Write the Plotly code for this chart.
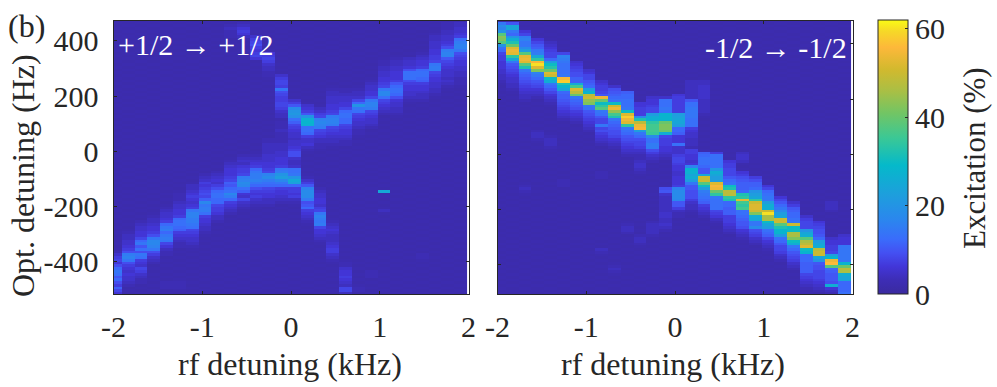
import plotly.graph_objects as go

RF_DETUNING = [-1.978, -1.834, -1.690, -1.545, -1.401, -1.257, -1.113, -0.969, -0.825, -0.680,
               -0.536, -0.392, -0.248, -0.104, 0.040, 0.184, 0.329, 0.473, 0.617, 0.761,
               0.905, 1.049, 1.194, 1.338, 1.482, 1.626, 1.770, 1.915]
OPT_LEFT = list(range(475, -525, -10))
OPT_RIGHT = list(range(485, -515, -10))
BACKGROUND = [1.8, 2.2]

# Each column: (Hz of first cell, excitation values going down in 10 Hz steps)
LEFT_COLUMNS = [
 [(-360, [3,5,7,8,6,9,12,14,13,10,12,9,7,11,8,6])],
 [(-290, [3,4,4,5,5,6,7,9,15,16,14,9,7,6,5,6,5,5,4,3])],
 [(-250, [3,4,5,5,6,6,8,12,14,10,13,9,14,13,7,6,5,8,7,5,4,3,3])],
 [(-230, [3,4,4,5,6,6,7,9,14,17,17,16,14,9,7,5,4,3])],
 [(-200, [3,4,5,5,6,7,12,14,15,12,14,15,14,8,6,4,3,3]), (-470, [3,3,3])],
 [(-150, [3,3,3,4,5,5,6,6,7,12,13,13,12,11,7,6,5,4,3,3]), (-470, [3,3,3])],
 [(-120, [4,4,5,6,7,6,5,6,7,14,16,16,15,15,14,13,8,7,6,5,5,4,3])],
 [(-80, [3,4,5,7,6,7,8,9,8,11,17,14,15,15,13,7,6,6,5,4,4,3])],
 [(-70, [3,4,5,6,5,7,9,12,13,13,12,12,8,7,7,6,4,4,3])],
 [(460, [3,4,3,3,3]), (-30, [3,4,5,6,6,6,7,8,11,10,12,13,17,15,12,7,6,5,4,3])],
 [(470, [3,4,6,7,6,4]), (-10, [3,4,5,4,6,7,7,8,15,16,18,17,13,11,6,5,8,5,4,3])],
 [(420, [5,7,8,9,7,6,7,8,6]), (-10, [3,4,5,6,7,12,14,15,15,16,14,12,9,7,6,7,5,4,3])],
 [(360, [6,7,8,7,5,4,4,3,3]), (50, [3,3,4,4,4,4,5,5,5,6,6,7,8,16,18,15,13,12,8,7,6,6,4,4,3])],
 [(280, [5,7,8,8,7,14,9,8,7,7,8,8,7,5,4,4]), (110, [3,3,3,4,3,3,3,3,4,4,4,5,5,6,6,6,7,14,15,20,22,17,14,12,7,6,6,5,4,3])],
 [(190, [5,7,10,18,20,21,19,13,11,8,7,6,5,5,4,5,5,6,7,9,9,5,4,4,5,13,13,14,20,25,23,12,7,7,6,7,4,3])],
 [(170, [5,6,7,10,20,27,28,27,13,13,12,7,5,5,6,4,3]), (-90, [3,5,7,10,16,18,18,18,15,9,10,12,7,6,5,4,3])],
 [(160, [4,5,7,8,16,17,16,15,8,7,6,4,4,3,3]), (-130, [3,4,5,5,6,6,5,7,8,14,16,15,14,15,8,6,6,5,4,3])],
 [(230, [3,4,4,5,5,5,6,6,7,8,15,16,16,15,8,7,6,5,4,4,3]), (-250, [3,4,5,6,5,4,4,4,5,6,7,7,5,4,3])],
 [(230, [3,3,4,5,5,6,6,8,12,13,13,12,12,8,7,6,6,5,4,3,3]), (-400, [3,3,5,6,6,7,6,5,4,8,8,4,3])],
 [(230, [3,4,4,5,8,12,20,14,13,8,7,6,5,5,4,3,3]), (-490, [3,3])],
 [(260, [3,4,5,5,6,6,8,14,16,16,15,8,7,6,5,5,4,3]), (-430, [3,3,3])],
 [(330, [3,3,4,4,5,5,6,6,7,8,14,17,17,13,8,7,6,5,4,3]), (-140, [25]), (-210, [4])],
 [(340, [3,4,4,5,5,6,6,6,7,10,12,13,13,12,9,6,5,5,4,4,3])],
 [(340, [4,5,5,6,9,13,13,13,9,7,6,6,5,5,4,3])],
 [(360, [3,4,5,6,6,7,12,13,13,12,11,7,6,6,5,4,4,3]), (-370, [3,3])],
 [(430, [3,4,4,5,5,5,6,6,7,7,8,14,15,15,8,7,6,6,5,5,4,4,3])],
 [(470, [3,3,3,4,4,5,5,6,7,9,15,16,16,10,8,7,6,5,5,5,4,5,4,3])],
 [(470, [4,4,5,5,6,7,13,15,16,16,14,9,8,7,6,6,5,5,4,4,3,3,3])],
]

RIGHT_COLUMNS = [
 [(480, [14,18,16,20,38,43,42,38,20,13,12,8,7,7,6,6,6,5,5,4,4,3])],
 [(480, [10,24,24,14,12,20,26,32,40,52,54,53,34,24,14,10,9,8,7,6,5,5,4,4,3])],
 [(450, [6,8,15,16,14,14,18,22,38,53,54,52,38,32,14,12,11,10,9,8,7,6,5,4,4,3]), (-110, [3,4,3])],
 [(420, [6,8,10,11,14,15,24,34,55,60,52,42,16,14,12,10,9,8,6,5,4,3]), (90, [3,4,4,3])],
 [(410, [4,5,6,7,8,8,12,22,30,33,40,52,50,30,26,14,12,10,8,6,5,4,3]), (70, [3,4,4,4,3])],
 [(370, [8,16,15,14,13,13,13,13,14,55,58,32,28,24,12,11,11,10,9,8,7,6,5,4,3]), (-90, [3,3,3])],
 [(340, [5,6,7,8,9,9,11,11,25,36,52,48,40,14,12,11,10,9,7,6,5,4,3])],
 [(310, [5,6,8,8,10,11,12,22,28,48,50,44,42,14,13,10,9,8,7,6,5,4,3])],
 [(270, [5,6,7,7,8,10,54,40,30,34,38,14,13,10,8,8,14,8,9,7,6,5,4,3]), (-340, [4,3]), (-60, [3,3,3])],
 [(250, [5,9,10,11,12,13,30,50,54,44,36,32,14,12,11,10,9,9,8,6,5,4,3]), (-400, [3,4,3])],
 [(230, [11,12,12,13,13,13,14,30,52,58,54,52,34,14,13,12,10,9,8,7,6,5,4,3]), (-250, [3,4,4,3])],
 [(190, [6,6,7,7,7,18,32,48,54,55,22,14,12,9,8,8,7,5,4,3]), (-10, [3,4,5,5,4,3]), (-290, [3,4,4,3])],
 [(210, [5,6,6,7,8,8,22,26,27,34,36,36,36,35,18,13,13,15,15,9,7,5,4,3]), (-240, [3,4,4,4,4,3])],
 [(210, [5,13,13,13,14,13,28,28,28,40,42,42,40,26,8,7,7,7,6,6,5,4,3]), (-120, [9,10,5,4,4,4,4,4,4,5,5,4,4,5,4,3])],
 [(220, [6,7,7,7,7,7,7,22,23,24,24,22,12,12,11,6,6,6,13,5,5,5,7,8,8,7,6,6,5,5,6,6,6,7,16,18,18,18,17,10,10,7,4,3,3])],
 [(270, [4,4,4,4,4,4,4,10,13,13,14,14,14,14,13,13,13,7,6,5,5,4,4,4,3,7,7,6,6,5,6,16,28,27,24,26,22,14,10,10,9,9,9,7,5,4,4,3])],
 [(270, [4,4,5,5,5,5,5,4,4,4,4,4,3]), (10, [11,12,13,13,13,12,10,10,24,50,50,38,30,22,15,14,13,12,11,7,6,5,4,3])],
 [(10, [7,13,13,13,13,13,20,26,24,22,22,52,55,54,40,34,14,13,13,13,13,8,7,6,4,3])],
 [(-20, [6,7,7,8,8,8,10,12,13,30,32,48,48,34,32,12,12,11,11,11,7,7,7,6,5,4,3])],
 [(10, [4,5,5,4]), (-60, [6,7,9,10,11,11,11,12,32,34,53,36,34,36,13,13,12,11,10,10,9,6,5,4,3])],
 [(-80, [7,9,11,11,12,20,22,24,34,50,52,52,50,42,26,25,14,14,18,9,8,7,5,4,3])],
 [(-110, [6,8,12,13,14,14,22,26,26,50,60,46,46,30,24,22,13,12,11,8,6,5,4,3])],
 [(-150, [6,8,10,12,14,18,22,24,50,50,38,32,28,28,22,13,12,10,8,8,7,5,4,3])],
 [(-170, [5,7,10,11,12,12,13,14,50,30,30,46,46,42,30,26,14,12,10,9,8,7,5,4,3])],
 [(-220, [5,7,8,8,8,20,24,26,38,46,48,52,30,28,12,12,12,11,11,11,11,8,7,6,5,4,3])],
 [(-240, [6,7,8,9,9,10,12,22,24,26,48,50,50,24,20,10,9,9,8,8,8,7,6,5,4,3])],
 [(-170, [4,4,4,3]), (-300, [5,6,6,7,7,8,22,28,54,56,38,12,11,10,10,10,9,26,6,4,3])],
 [(-290, [5,6,6,6,14,14,14,14,14,14,28,40,48,46,26,24,24,12,12,12,12,13])],
]

TICKS_RF = [-2, -1, 0, 1, 2]
TICKS_RF_TEXT = ["-2", "-1", "0", "1", "2"]
TICKS_OPT = [-400, -200, 0, 200, 400]
TICKS_OPT_TEXT = ["-400", "-200", "0", "200", "400"]
TICKS_EXC = [0, 20, 40, 60]

PARULA = [[0.0, "#3a2a9f"], [0.05, "#3d2db5"], [0.1, "#4236d8"], [0.15, "#4450f2"], [0.2, "#3a6cfb"], [0.27, "#2b86ee"],
          [0.36, "#1e9edd"], [0.47, "#05b9ca"], [0.57, "#3bc895"], [0.66, "#72c564"], [0.74, "#a9bf45"],
          [0.82, "#d2b92e"], [0.9, "#fdb83a"], [0.96, "#f6d927"], [1.0, "#f9fb15"]]
FONT = "Liberation Serif"
INK = "#262626"


def build(columns, rows, top):
    grid = [[BACKGROUND[(r + c) % 2] for c in range(len(columns))] for r in range(len(rows))]
    for c, segments in enumerate(columns):
        for hz, values in segments:
            r0 = (top - hz) // 10
            for i, v in enumerate(values):
                if 0 <= r0 + i < len(rows):
                    grid[r0 + i][c] = max(grid[r0 + i][c], v)
    return grid


fig = go.Figure()
fig.add_trace(go.Heatmap(x=RF_DETUNING, y=OPT_LEFT, z=build(LEFT_COLUMNS, OPT_LEFT, 480),
                         coloraxis="coloraxis", xaxis="x", yaxis="y"))
fig.add_trace(go.Heatmap(x=RF_DETUNING, y=OPT_RIGHT, z=build(RIGHT_COLUMNS, OPT_RIGHT, 490),
                         coloraxis="coloraxis", xaxis="x2", yaxis="y2"))

W, H = 997, 387
axis_common = dict(ticks="inside", ticklen=3, tickcolor=INK, tickwidth=1, mirror="ticks", showline=True,
                   linecolor=INK, linewidth=1, showgrid=False, zeroline=False, automargin=False,
                   tickfont=dict(family=FONT, size=30, color=INK))
fig.update_layout(
    width=W, height=H, autosize=False, paper_bgcolor="white", plot_bgcolor="white",
    margin=dict(l=0, r=0, t=0, b=0), showlegend=False,
    xaxis=dict(domain=[113.5 / W, 468.5 / W], range=[-2, 2], tickvals=TICKS_RF, ticktext=TICKS_RF_TEXT,
               anchor="y", ticklabelstandoff=6, **axis_common),
    yaxis=dict(domain=[1 - 294 / H, 1 - 20.5 / H], range=[-517, 474], tickvals=TICKS_OPT, ticktext=TICKS_OPT_TEXT,
               anchor="x", ticklabelstandoff=8, **axis_common),
    xaxis2=dict(domain=[497.5 / W, 852.5 / W], range=[-2, 2], tickvals=TICKS_RF, ticktext=TICKS_RF_TEXT,
                anchor="y2", ticklabelstandoff=6, **axis_common),
    yaxis2=dict(domain=[1 - 294 / H, 1 - 20.5 / H], range=[-506, 485], tickvals=TICKS_OPT, showticklabels=False,
                anchor="x2", **axis_common),
    coloraxis=dict(cmin=0, cmax=62, colorscale=PARULA, colorbar=dict(
        thickness=30, thicknessmode="pixels", len=273.5, lenmode="pixels",
        x=878 / W, xanchor="left", xpad=0, y=1 - 294 / H, yanchor="bottom", ypad=0,
        tickvals=TICKS_EXC, ticks="inside", ticklen=3, tickcolor=INK,
        tickfont=dict(family=FONT, size=30, color=INK), outlinecolor=INK, outlinewidth=1)),
    annotations=[
        dict(text="(b)", xref="paper", yref="paper", x=6 / W, y=1 - 26 / H, xanchor="left", yanchor="middle",
             showarrow=False, font=dict(family=FONT, size=32, color=INK)),
        dict(text="+1/2 → +1/2", xref="paper", yref="paper", x=116 / W, y=1 - 44 / H, xanchor="left", yanchor="middle",
             showarrow=False, font=dict(family=FONT, size=30, color="white")),
        dict(text="-1/2 → -1/2", xref="paper", yref="paper", x=849 / W, y=1 - 47 / H, xanchor="right", yanchor="middle",
             showarrow=False, font=dict(family=FONT, size=30, color="white")),
        dict(text="rf detuning (kHz)", xref="paper", yref="paper", x=290 / W, y=1 - 364 / H, xanchor="center", yanchor="middle",
             showarrow=False, font=dict(family=FONT, size=32, color=INK)),
        dict(text="rf detuning (kHz)", xref="paper", yref="paper", x=673 / W, y=1 - 364 / H, xanchor="center", yanchor="middle",
             showarrow=False, font=dict(family=FONT, size=32, color=INK)),
        dict(text="Opt. detuning (Hz)", xref="paper", yref="paper", x=23 / W, y=1 - 176 / H, xanchor="center", yanchor="middle",
             textangle=-90, showarrow=False, font=dict(family=FONT, size=32, color=INK)),
        dict(text="Excitation (%)", xref="paper", yref="paper", x=974 / W, y=1 - 158 / H, xanchor="center", yanchor="middle",
             textangle=-90, showarrow=False, font=dict(family=FONT, size=31, color=INK)),
    ],
)
fig.write_html("out.html", post_script="document.body.style.margin='0';", config={"displayModeBar": False})
